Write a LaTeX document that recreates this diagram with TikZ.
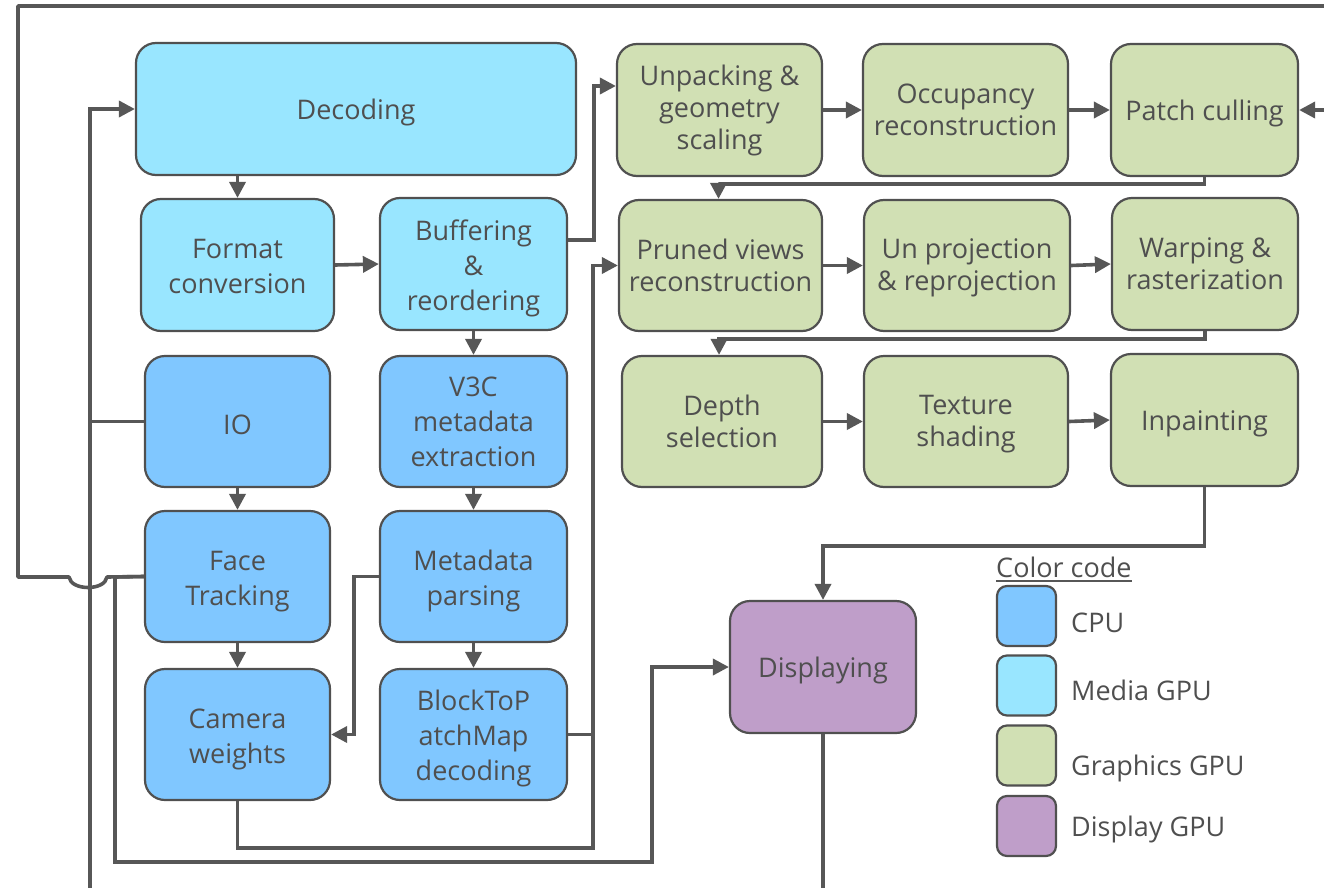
\documentclass[tikz,border=0pt]{standalone}
\usepackage{fontspec}
\setmainfont{Open Sans}
\usetikzlibrary{arrows.meta}

\definecolor{wire}{HTML}{575757}
\definecolor{boxline}{HTML}{505050}
\definecolor{txt}{HTML}{4F4F4F}
\definecolor{mediagpu}{HTML}{99E6FF}
\definecolor{cpu}{HTML}{80C7FF}
\definecolor{graphicsgpu}{HTML}{D1E0B4}
\definecolor{displaygpu}{HTML}{BF9EC9}

% centred lines of text, padded on top so that they sit a little lower in their box
\newcommand{\dropstack}[2]{\vbox{\kern#1\hbox{\begin{tabular}{@{}c@{}}#2\end{tabular}}}}

\begin{document}
\begin{tikzpicture}[x=1pt,y=-1pt,
  box/.style={draw=boxline, line width=2.2pt, rounded corners=20pt, inner sep=0pt,
    align=center, text=txt, font=\fontsize{27}{35}\selectfont,
    execute at begin node={\rule{0pt}{27pt}}},
  gbox/.style={box, fill=graphicsgpu, font=\fontsize{27}{32}\selectfont},
  mbox/.style={box, fill=mediagpu},
  cbox/.style={box, fill=cpu},
  dbox/.style={box, fill=displaygpu},
  legbox/.style={draw=boxline, line width=2.2pt, rounded corners=10pt,
    minimum width=59pt, minimum height=60pt, inner sep=0pt},
  legtxt/.style={anchor=west, inner sep=0pt, text=txt, font=\fontsize{27}{32}\selectfont},
  wireline/.style={draw=wire, line width=3.6pt},
  arr/.style={wireline, -{Triangle[length=16pt,width=16pt]}}
]
\useasboundingbox (0,0) rectangle (1324,888);
\clip (0,0) rectangle (1324,888);

% ---- media GPU and CPU stages
\node[mbox, minimum width=440pt, minimum height=132pt] (dec) at (356,109) {Decoding};
\node[mbox, minimum width=193pt, minimum height=132pt] (fmt) at (237.5,265) {\dropstack{8pt}{Format\\conversion}};
\node[mbox, minimum width=187pt, minimum height=132pt] (buf) at (473.5,264) {\dropstack{8pt}{Buffering\\\&\\reordering}};
\node[cbox, minimum width=185pt, minimum height=131pt] (io) at (237.5,421.5) {IO};
\node[cbox, minimum width=187pt, minimum height=131pt] (v3c) at (473.5,421.5) {\dropstack{6pt}{V3C\\metadata\\extraction}};
\node[cbox, minimum width=185pt, minimum height=131pt] (face) at (237.5,576.5) {\dropstack{8pt}{Face\\Tracking}};
\node[cbox, minimum width=187pt, minimum height=131pt] (meta) at (473.5,576.5) {\dropstack{8pt}{Metadata\\parsing}};
\node[cbox, minimum width=185pt, minimum height=131pt] (cam) at (237.5,734.5) {\dropstack{8pt}{Camera\\weights}};
\node[cbox, minimum width=187pt, minimum height=131pt] (btp) at (473.5,734.5) {\dropstack{8pt}{BlockToP\\atchMap\\decoding}};

% ---- graphics GPU stages
\node[gbox, minimum width=205pt, minimum height=132pt] (unp) at (719.5,110) {Unpacking \&\\geometry\\scaling};
\node[gbox, minimum width=205pt, minimum height=132pt] (occ) at (965.5,110) {Occupancy\\reconstruction};
\node[gbox, minimum width=187pt, minimum height=132pt] (pc) at (1204.5,110) {Patch culling};
\node[gbox, minimum width=203pt, minimum height=131pt] (prv) at (720.5,265.5) {Pruned views\\reconstruction};
\node[gbox, minimum width=206pt, minimum height=131pt] (unpj) at (967,265.5) {\dropstack{5pt}{Un projection\\\& reprojection}};
\node[gbox, minimum width=186pt, minimum height=132pt] (warp) at (1205,264) {Warping \&\\rasterization};
\node[gbox, minimum width=200pt, minimum height=131pt] (dep) at (722,421.5) {Depth\\selection};
\node[gbox, minimum width=204pt, minimum height=131pt] (tex) at (966,421.5) {\dropstack{5pt}{Texture\\shading}};
\node[gbox, minimum width=187pt, minimum height=132pt] (inp) at (1204.5,420) {Inpainting};

% ---- display GPU
\node[dbox, minimum width=186pt, minimum height=132pt] (disp) at (823,667) {Displaying};

% ---- free ends leaving the drawing area
\coordinate (botleft) at (90,895);
\coordinate (botdisp) at (823,895);
\coordinate (rightin) at (1330,110);
\coordinate (topright) at (1330,6);

% ---- left column chain
\draw[arr] (dec.south -| fmt.north) -- (fmt.north);
\draw[arr] (fmt.east) -- (buf.west);
\draw[arr] (buf.south) -- (v3c.north);
\draw[arr] (v3c.south) -- (meta.north);
\draw[arr] (meta.south) -- (btp.north);
\draw[arr] (io.south) -- (face.north);
\draw[arr] (face.south) -- (cam.north);

% IO feeds decoding
\draw[arr] (botleft) |- (dec.west);
\draw[wireline] (io.west) -- (io.west -| botleft);

% metadata parsing to camera weights
\draw[arr] (meta.west) -- ++(-25,0) |- (cam.east);

% buffering to unpacking
\draw[arr] ([yshift=24pt]buf.east) -- ++(26,0) |- ([yshift=24pt]unp.west);

% camera weights and patch map to pruned views
\draw[arr] (cam.south) |- (593,848) |- (prv.west);
\draw[wireline] (btp.east) -- ++(26,0);

% face tracking to displaying
\draw[arr] (face.west) -- (115,577) -- (115,862) -- (652,862) |- (disp.west);

% face tracking loops round to patch culling
\draw[wireline, line join=round] (face.west) -- (107,577)
  .. controls (105,591) and (71,591) .. (69,577)
  -- (18,577) -- (18,6) -- (topright);
\draw[arr] (rightin) -- (pc.east);

% ---- graphics chain
\draw[arr] (unp.east) -- (occ.west);
\draw[arr] (occ.east) -- (pc.west);
\draw[arr] (pc.south) -- ++(0,7) -| ([xshift=-2pt]prv.north);
\draw[arr] (prv.east) -- (unpj.west);
\draw[arr] (unpj.east) -- (warp.west);
\draw[arr] (warp.south) -- ++(0,8) -| ([xshift=-3pt]dep.north);
\draw[arr] (dep.east) -- (tex.west);
\draw[arr] (tex.east) -- (inp.west);
\draw[arr] (inp.south) -- ++(0,59) -| (disp.north);
\draw[wireline] (disp.south) -- (botdisp);

% ---- colour legend
\node[legtxt] (ltitle) at (996,567) {Color code};
\draw[draw=wire, line width=2pt] ([yshift=-3pt]ltitle.south west) -- ([yshift=-3pt]ltitle.south east);
\node[legbox, fill=cpu] (lcpu) at (1026.5,616) {};
\node[legbox, fill=mediagpu] (lmedia) at (1026.5,685.5) {};
\node[legbox, fill=graphicsgpu] (lgfx) at (1026.5,755.5) {};
\node[legbox, fill=displaygpu] (ldisp) at (1026.5,826) {};
\node[legtxt] (tcpu) at (1071,623) {CPU};
\node[legtxt] (tmedia) at (1071,690) {Media GPU};
\node[legtxt] (tgfx) at (1071,768) {Graphics GPU};
\node[legtxt] (tdisp) at (1071,829) {Display GPU};
\end{tikzpicture}
\end{document}
